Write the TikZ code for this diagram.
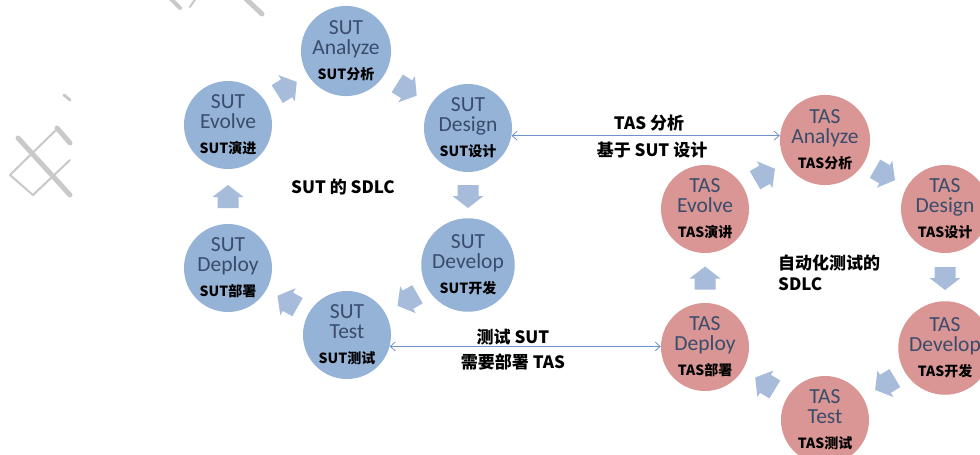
\documentclass[tikz,border=0pt]{standalone}
\usepackage{fontspec}
\setmainfont{Carlito}
\newfontfamily\cjk{Noto Sans CJK SC}
\usetikzlibrary{calc,arrows.meta}
\definecolor{sutfill}{HTML}{95B3D7}
\definecolor{tasfill}{HTML}{D99694}
\definecolor{blkfill}{HTML}{A7BBDA}
\definecolor{entext}{HTML}{3A4C6C}
\definecolor{linkcol}{HTML}{6F93C8}
\definecolor{wmark}{HTML}{C9C9C9}
\tikzset{
  x=1pt, y=-1pt,
  phase/.style={circle, minimum size=88pt, inner sep=0pt, align=center,
    text=entext, font=\fontsize{21.5}{20}\selectfont},
  sutc/.style={phase, fill=sutfill},
  tasc/.style={phase, fill=tasfill},
  link/.style={draw=linkcol, line width=0.8pt, {Straight Barb[length=5pt,width=9pt]}-{Straight Barb[length=5pt,width=9pt]}},
  lbl/.style={font=\cjk\bfseries\fontsize{17}{17}\selectfont, text=black, inner sep=0pt},
  blk/.pic={\fill[blkfill] (-11.5,-10.5) -- (-0.5,-10.5) -- (-0.5,-15.5) -- (11.5,0) -- (-0.5,15.5) -- (-0.5,10.5) -- (-11.5,10.5) -- cycle;},
  wm/.style={draw=wmark, line cap=round}
}
\newcommand{\zh}[1]{\\[5pt]{\cjk\bfseries\fontsize{14}{14}\selectfont\color{black}#1}}
\newcommand{\blkbetween}[2]{%
  \path let \p1=($(#2)-(#1)$), \n1={atan2(\y1,\x1)} in
    ($(#1)!0.5!(#2)$) pic[rotate=\n1] {blk};}
\begin{document}
\begin{tikzpicture}
\useasboundingbox (0,0) rectangle (980,455);
\clip (0,0) rectangle (980,455);
\fill[white] (0,0) rectangle (980,455);
% watermark fragments
\draw[wm, line width=5pt] (18,138) -- (70,195);
\draw[wm, line width=5pt] (57,128) -- (70,143);
\draw[wm, line width=2pt] (10,175) -- (58,128);
\draw[wm, line width=2pt] (10,175) -- (33,195) -- (70,160);
\draw[wm, line width=3pt] (64,95) -- (70,100);
\draw[wm, line width=4pt] (170,-2) -- (180,8);
\draw[wm, line width=2pt] (196,-2) -- (190,7);
\draw[wm, line width=5pt] (245,-2) -- (262,14);
% SUT cycle
\node[sutc] (sana) at (346,51) {SUT\\Analyze\zh{SUT分析}};
\node[sutc] (sdes) at (468,128) {SUT\\Design\zh{SUT设计}};
\node[sutc] (sdev) at (468,265) {SUT\\Develop\zh{SUT开发}};
\node[sutc] (stest) at (347,335) {SUT\\Test\zh{SUT测试}};
\node[sutc] (sdep) at (228,268) {SUT\\Deploy\zh{SUT部署}};
\node[sutc] (sevo) at (228,125) {SUT\\Evolve\zh{SUT演进}};
\blkbetween{sevo}{sana}
\blkbetween{sana}{sdes}
\blkbetween{sdes}{sdev}
\blkbetween{sdev}{stest}
\blkbetween{stest}{sdep}
\blkbetween{sdep}{sevo}
\node[lbl] (sutlc) at (343,187) {SUT 的 SDLC};
% TAS cycle
\node[tasc] (tana) at (825,140) {TAS\\Analyze\zh{TAS分析}};
\node[tasc] (tdes) at (945,209) {TAS\\Design\zh{TAS设计}};
\node[tasc] (tdev) at (945,348) {TAS\\Develop\zh{TAS开发}};
\node[tasc] (ttest) at (825,420) {TAS\\Test\zh{TAS测试}};
\node[tasc] (tdep) at (705,347) {TAS\\Deploy\zh{TAS部署}};
\node[tasc] (tevo) at (705,209) {TAS\\Evolve\zh{TAS演讲}};
\blkbetween{tevo}{tana}
\blkbetween{tana}{tdes}
\blkbetween{tdes}{tdev}
\blkbetween{tdev}{ttest}
\blkbetween{ttest}{tdep}
\blkbetween{tdep}{tevo}
\node[lbl, anchor=west] (taslc1) at (778,263) {自动化测试的};
\node[lbl, anchor=west] (taslc2) at (778,284) {SDLC};
% links
\draw[link] (sdes.350) -- (tana.west |- sdes.350);
\node[lbl] (l1a) at (649,123) {TAS 分析};
\node[lbl] (l1b) at (652,150) {基于 SUT 设计};
\draw[link] (stest.-15) -- (tdep.west |- stest.-15);
\node[lbl] (l2a) at (513,337) {测试 SUT};
\node[lbl] (l2b) at (513,362) {需要部署 TAS};
\end{tikzpicture}
\end{document}
